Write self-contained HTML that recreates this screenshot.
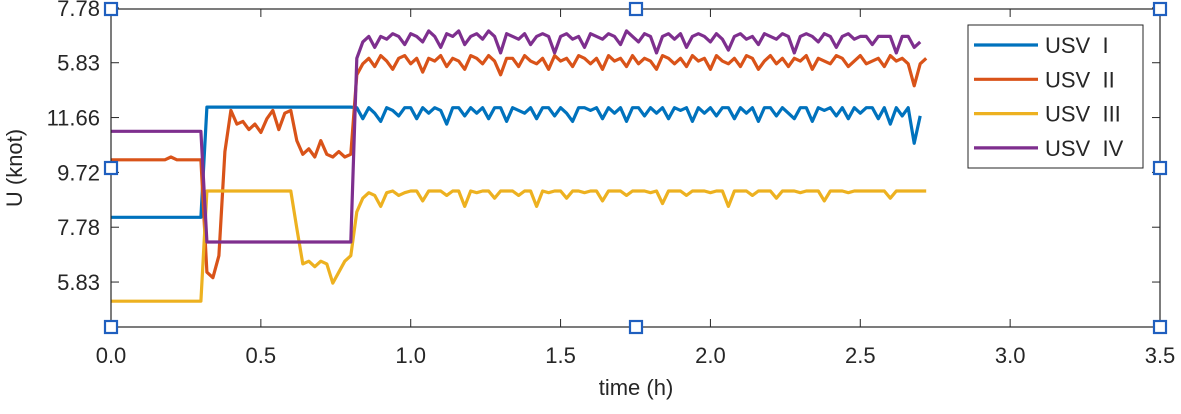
<!DOCTYPE html>
<html><head><meta charset="utf-8"><style>
body{margin:0;background:#fff}
svg text{font-family:"Liberation Sans",sans-serif;fill:#262626}
</style></head><body>
<svg id="chart" width="1181" height="409" viewBox="0 0 1181 409" xmlns="http://www.w3.org/2000/svg">
<g id="grid"></g><g id="series"></g><g id="fg"></g>
</svg>
<script>
const xTicks=[0,0.5,1.0,1.5,2.0,2.5,3.0,3.5];
const xTickLabels=["0.0","0.5","1.0","1.5","2.0","2.5","3.0","3.5"];
const yTicks=[0.82,1.82,2.82,3.82,4.82,5.82];
const yTickLabels=["5.83","7.78","9.72","11.66","5.83","7.78"];
const seriesNames=["USV  I","USV  II","USV  III","USV  IV"];
const timeStep=0.02;
const blueVals=[2,2,2,2,2,2,2,2,2,2,2,2,2,2,2,2,
4.01,4.01,4.01,4.01,4.01,4.01,4.01,4.01,4.01,4.01,4.01,4.01,4.01,4.01,4.01,4.01,4.01,4.01,4.01,4.01,4.01,4.01,4.01,4.01,4.01,
4.0,3.8,4.0,3.9,3.75,4.0,3.95,3.85,4.0,4.0,3.8,4.0,3.9,4.0,3.95,3.7,4.0,4.0,3.85,4.0,3.9,4.0,3.8,4.0,4.0,3.75,4.0,3.95,3.9,4.0,3.8,4.0,4.0,3.85,4.0,3.9,3.75,4.0,4.0,3.95,4.0,3.8,4.0,3.9,4.0,3.75,4.0,4.0,3.85,4.0,3.9,4.0,3.8,4.0,3.95,4.0,3.75,4.0,3.9,4.0,3.85,4.0,4.0,3.8,4.0,3.9,4.0,3.75,4.0,4.0,3.85,4.0,3.9,3.8,4.0,4.0,3.75,4.0,3.95,4.0,3.85,4.0,3.8,4.0,3.9,4.0,4.0,3.8,4.0,3.7,4.0,3.85,4.0,3.35,3.85];
const orangeVals=[3.05,3.05,3.05,3.05,3.05,3.05,3.05,3.05,3.05,3.05,3.1,3.05,3.05,3.05,3.05,3.05,
1.0,0.9,1.3,3.2,3.95,3.7,3.75,3.6,3.7,3.55,3.8,3.95,3.6,3.9,3.95,3.4,3.15,3.25,3.1,3.4,3.15,3.1,3.2,3.1,3.15,
4.6,4.8,4.9,4.75,4.95,4.85,4.7,4.9,4.95,4.8,4.9,4.65,4.9,4.85,4.95,4.75,4.9,4.85,4.7,4.95,4.9,4.8,4.95,4.85,4.6,4.9,4.9,4.75,4.95,4.85,4.8,4.9,4.7,4.95,4.85,4.9,4.75,4.95,4.9,4.8,4.9,4.7,4.95,4.85,4.9,4.75,4.95,4.8,4.9,4.85,4.7,4.95,4.9,4.8,4.9,4.75,4.95,4.85,4.9,4.7,4.95,4.85,4.8,4.9,4.75,4.95,4.9,4.7,4.85,4.95,4.8,4.9,4.75,4.9,4.85,4.95,4.7,4.9,4.85,4.8,4.95,4.9,4.75,4.85,4.95,4.8,4.85,4.9,4.75,4.95,4.85,4.9,4.8,4.4,4.8,4.9];
const yellowVals=[0.47,0.47,0.47,0.47,0.47,0.47,0.47,0.47,0.47,0.47,0.47,0.47,0.47,0.47,0.47,0.47,
2.48,2.48,2.48,2.48,2.48,2.48,2.48,2.48,2.48,2.48,2.48,2.48,2.48,2.48,2.48,1.8,1.15,1.2,1.1,1.2,1.15,0.8,1.0,1.2,1.3,
2.1,2.35,2.45,2.4,2.2,2.45,2.48,2.4,2.45,2.48,2.48,2.3,2.48,2.48,2.48,2.4,2.48,2.48,2.2,2.48,2.45,2.48,2.48,2.35,2.48,2.48,2.48,2.4,2.48,2.48,2.2,2.48,2.45,2.48,2.48,2.35,2.48,2.48,2.45,2.48,2.48,2.3,2.48,2.48,2.48,2.4,2.48,2.48,2.48,2.45,2.48,2.25,2.48,2.48,2.48,2.4,2.48,2.48,2.48,2.45,2.48,2.48,2.2,2.48,2.48,2.48,2.4,2.48,2.48,2.48,2.35,2.48,2.48,2.48,2.45,2.48,2.48,2.48,2.3,2.48,2.48,2.48,2.45,2.48,2.48,2.48,2.48,2.48,2.48,2.35,2.48,2.48,2.48,2.48,2.48,2.48];
const purpleVals=[3.57,3.57,3.57,3.57,3.57,3.57,3.57,3.57,3.57,3.57,3.57,3.57,3.57,3.57,3.57,3.57,
1.55,1.55,1.55,1.55,1.55,1.55,1.55,1.55,1.55,1.55,1.55,1.55,1.55,1.55,1.55,1.55,1.55,1.55,1.55,1.55,1.55,1.55,1.55,1.55,1.55,
4.9,5.2,5.3,5.1,5.3,5.25,5.35,5.3,5.15,5.35,5.3,5.2,5.4,5.3,5.1,5.35,5.3,5.4,5.15,5.3,5.35,5.25,5.4,5.3,5.0,5.35,5.3,5.25,5.35,5.15,5.3,5.35,5.3,5.0,5.3,5.35,5.25,5.3,5.1,5.35,5.3,5.25,5.35,5.3,5.15,5.4,5.3,5.2,5.35,5.3,5.0,5.3,5.35,5.25,5.35,5.1,5.3,5.35,5.3,5.2,5.35,5.25,5.05,5.3,5.35,5.25,5.3,5.15,5.35,5.3,5.25,5.35,5.3,5.0,5.3,5.35,5.3,5.2,5.35,5.3,5.1,5.3,5.35,5.25,5.3,5.3,5.15,5.3,5.3,5.3,5.0,5.3,5.3,5.1,5.2];
const seriesColors=["#0072BD","#D95319","#EDB120","#7E2F8E"];

const L=111,R=1160,T=9,B=327,NS="http://www.w3.org/2000/svg";
const xs=v=>L+(v-0)/(3.5-0)*(R-L);
const ys=v=>B-(v-0)/(5.8-0)*(B-T);
function mk(tag,attrs,parent){const e=document.createElementNS(NS,tag);for(const k in attrs)e.setAttribute(k,attrs[k]);parent.appendChild(e);return e;}
const fg=document.getElementById('fg'),sg=document.getElementById('series');
const all=[blueVals,orangeVals,yellowVals,purpleVals];
const names=["usv-1-line","usv-2-line","usv-3-line","usv-4-line"];
all.forEach((vals,s)=>{
  const d=vals.map((v,i)=>(i?'L':'M')+xs(i*timeStep).toFixed(1)+' '+ys(v).toFixed(1)).join(' ');
  const p=mk('path',{d:d,fill:'none',stroke:seriesColors[s],'stroke-width':3.2,'stroke-linejoin':'round'},sg);
  
  
});
const box=mk('rect',{x:L,y:T,width:R-L,height:B-T,fill:'none',stroke:'#262626','stroke-width':1.2},fg);


xTicks.forEach((v,i)=>{
  const x=xs(v);
  mk('line',{x1:x,x2:x,y1:B,y2:B-8,stroke:'#262626'},fg);
  mk('line',{x1:x,x2:x,y1:T,y2:T+8,stroke:'#262626'},fg);
  const t=mk('text',{x:x,y:363,'text-anchor':'middle','font-size':22},fg);t.textContent=xTickLabels[i];
  
  
});
yTicks.forEach((v,i)=>{
  const y=ys(v);
  mk('line',{x1:L,x2:L+8,y1:y,y2:y,stroke:'#262626'},fg);
  mk('line',{x1:R,x2:R-8,y1:y,y2:y,stroke:'#262626'},fg);
  const t=mk('text',{x:100,y:y+8,'text-anchor':'end','font-size':22},fg);t.textContent=yTickLabels[i];
  
  
});
const xt=mk('text',{x:636,y:395,'text-anchor':'middle','font-size':22},fg);xt.textContent="time (h)";


const yt=mk('text',{x:0,y:0,'text-anchor':'middle','font-size':22,transform:'translate(22,168) rotate(-90)'},fg);yt.textContent="U (knot)";


const lg=mk('g',{},fg);


mk('rect',{x:968,y:25,width:175,height:143,fill:'#fff',stroke:'#262626','stroke-width':1},lg);
seriesNames.forEach((n,i)=>{
  const y=45+i*34.3;
  const ln=mk('line',{x1:974,x2:1038,y1:y,y2:y,stroke:seriesColors[i],'stroke-width':3.2},lg);
  
  
  const t=mk('text',{x:1045,y:y+8,'font-size':22},lg);t.textContent=n;
  
  
  t.style.whiteSpace='pre';
});
[[L,T],[636,T],[R,T],[L,168],[R,168],[L,B],[636,B],[R,B]].forEach(([x,y])=>{
  const h=mk('rect',{x:x-6,y:y-6,width:12,height:12,fill:'#fff',stroke:'#1f5fbf','stroke-width':2.2},fg);
  
  
});
</script>
</body></html>
